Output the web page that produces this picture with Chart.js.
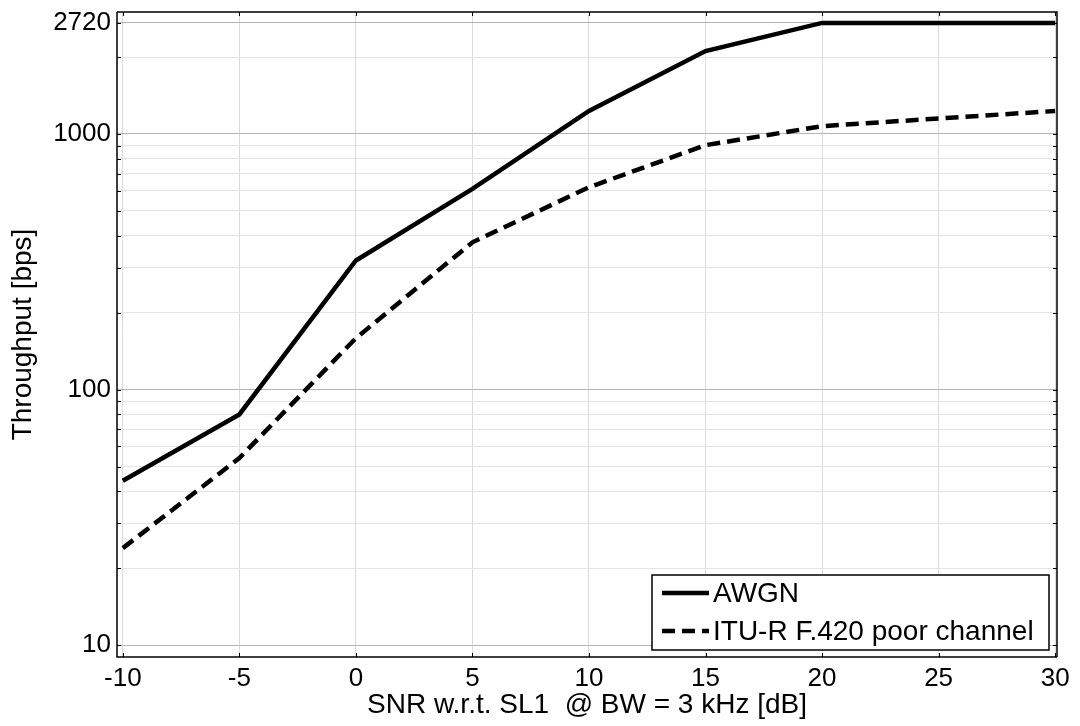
<!DOCTYPE html>
<html>
<head>
<meta charset="utf-8">
<script src="https://cdn.jsdelivr.net/npm/chart.js@4.4.0/dist/chart.umd.min.js"></script>
<style>
    html, body { margin: 0; padding: 0; background: #fff; }
    #wrap { width: 1080px; height: 726px; }
</style>
</head>
<body>
<div id="wrap"><canvas id="chart" width="1080" height="726"></canvas></div>
<script>
// --- data ---
const snr = [-10, -5, 0, 5, 10, 15, 20, 25, 30];
const awgn = [44, 80, 320, 610, 1230, 2110, 2720, 2720, 2720];
const itu = [24, 54, 159, 377, 619, 904, 1073, 1150, 1230];
const xTicks = [-10, -5, 0, 5, 10, 15, 20, 25, 30];
const yLabelTicks = [10, 100, 1000, 2720];
const yMinorTicks = [20, 30, 40, 50, 60, 70, 80, 90, 200, 300, 400, 500, 600, 700, 800, 900, 2000];
const seriesLabels = ['AWGN', 'ITU-R F.420 poor channel'];

const FONT = "'Liberation Sans', Arial, Helvetica, sans-serif";
Chart.defaults.font.family = FONT;
Chart.defaults.color = '#000';

// axes frame + small inward ticks (matlab style)
const framePlugin = {
    id: 'frame',
    afterDraw(chart) {
        const { ctx, chartArea: a, scales } = chart;
        ctx.save();
        ctx.strokeStyle = '#000';
        ctx.lineWidth = 1.5;
        ctx.beginPath();
        ctx.moveTo(a.left, a.top);
        ctx.lineTo(a.left, a.bottom);
        ctx.lineTo(a.right, a.bottom);
        ctx.moveTo(a.left, a.top);
        ctx.lineTo(a.right, a.top);
        ctx.lineTo(a.right, a.bottom);
        ctx.stroke();

        ctx.lineWidth = 1;
        ctx.beginPath();
        xTicks.forEach(v => {
            const px = Math.round(scales.x.getPixelForValue(v)) + 0.5;
            ctx.moveTo(px, a.bottom); ctx.lineTo(px, a.bottom - 4);
            ctx.moveTo(px, a.top); ctx.lineTo(px, a.top + 4);
        });
        [...yLabelTicks, ...yMinorTicks].forEach(v => {
            const py = Math.round(scales.y.getPixelForValue(v)) + 0.5;
            ctx.moveTo(a.left, py); ctx.lineTo(a.left + 4, py);
            ctx.moveTo(a.right, py); ctx.lineTo(a.right - 4, py);
        });
        ctx.stroke();
        ctx.restore();
    }
};

// boxed legend in the lower right corner
const legendBoxPlugin = {
    id: 'legendBox',
    afterDraw(chart) {
        const { ctx, chartArea: a } = chart;
        const boxW = 397, boxH = 75;
        const x0 = a.right - 8 - boxW;
        const y0 = a.bottom - 7 - boxH;
        ctx.save();
        ctx.fillStyle = '#fff';
        ctx.fillRect(x0, y0, boxW, boxH);
        ctx.strokeStyle = '#000';
        ctx.lineWidth = 1.5;
        ctx.strokeRect(x0, y0, boxW, boxH);

        ctx.font = '28px ' + FONT;
        ctx.textBaseline = 'middle';
        ctx.fillStyle = '#000';
        chart.data.datasets.forEach((ds, i) => {
            const cy = y0 + 18 + i * 38;
            ctx.lineWidth = 4.5;
            ctx.strokeStyle = ds.borderColor;
            ctx.setLineDash(ds.borderDash || []);
            ctx.beginPath();
            ctx.moveTo(x0 + 10, cy);
            ctx.lineTo(x0 + 57, cy);
            ctx.stroke();
            ctx.setLineDash([]);
            ctx.fillText(ds.label, x0 + 61, cy + 1);
        });
        ctx.restore();
    }
};

const isMajorY = v => yLabelTicks.includes(v);

new Chart(document.getElementById('chart'), {
    type: 'line',
    data: {
        datasets: [
            {
                label: seriesLabels[0],
                data: snr.map((x, i) => ({ x, y: awgn[i] })),
                borderColor: '#000',
                borderWidth: 4.5,
                pointRadius: 0,
                tension: 0
            },
            {
                label: seriesLabels[1],
                data: snr.map((x, i) => ({ x, y: itu[i] })),
                borderColor: '#000',
                borderWidth: 4.5,
                borderDash: [13, 7],
                pointRadius: 0,
                tension: 0
            }
        ]
    },
    options: {
        responsive: false,
        devicePixelRatio: 1,
        animation: false,
        layout: { padding: { top: 12, right: 23, left: 0, bottom: 0 } },
        plugins: {
            legend: { display: false },
            tooltip: { enabled: false }
        },
        scales: {
            x: {
                type: 'linear',
                min: -10.25,
                max: 30.08,
                afterBuildTicks: s => { s.ticks = xTicks.map(v => ({ value: v })); },
                afterFit: s => { s.height = 69; },
                grid: { color: '#dcdcdc', lineWidth: 1, drawTicks: false },
                border: { display: false },
                ticks: {
                    autoSkip: false,
                    maxRotation: 0,
                    padding: 6,
                    font: { size: 26 },
                    color: '#000'
                },
                title: {
                    display: true,
                    text: 'SNR w.r.t. SL1  @ BW = 3 kHz [dB]',
                    font: { size: 28, lineHeight: 1.2 },
                    color: '#000',
                    padding: { top: 0, bottom: 4 }
                }
            },
            y: {
                type: 'logarithmic',
                min: 9,
                max: 3000,
                afterBuildTicks: s => {
                    s.ticks = [...yMinorTicks, ...yLabelTicks].sort((p, q) => p - q).map(v => ({ value: v }));
                },
                afterFit: s => {
                    s.width = 117;
                    // top label sits below the axis max, no extra room needed
                    s.paddingTop = 0;
                    s.paddingBottom = 0;
                },
                grid: {
                    color: ctx => isMajorY(ctx.tick.value) ? '#b4b4b4' : '#e4e4e4',
                    lineWidth: 1,
                    drawTicks: false
                },
                border: { display: false },
                ticks: {
                    autoSkip: false,
                    padding: 6,
                    font: { size: 26 },
                    color: '#000',
                    callback: v => isMajorY(v) ? String(v) : ''
                },
                title: {
                    display: true,
                    text: 'Throughput [bps]',
                    font: { size: 28, lineHeight: 1.2 },
                    color: '#000',
                    padding: { top: 6, bottom: 0 }
                }
            }
        }
    },
    plugins: [framePlugin, legendBoxPlugin]
});
</script>
</body>
</html>
